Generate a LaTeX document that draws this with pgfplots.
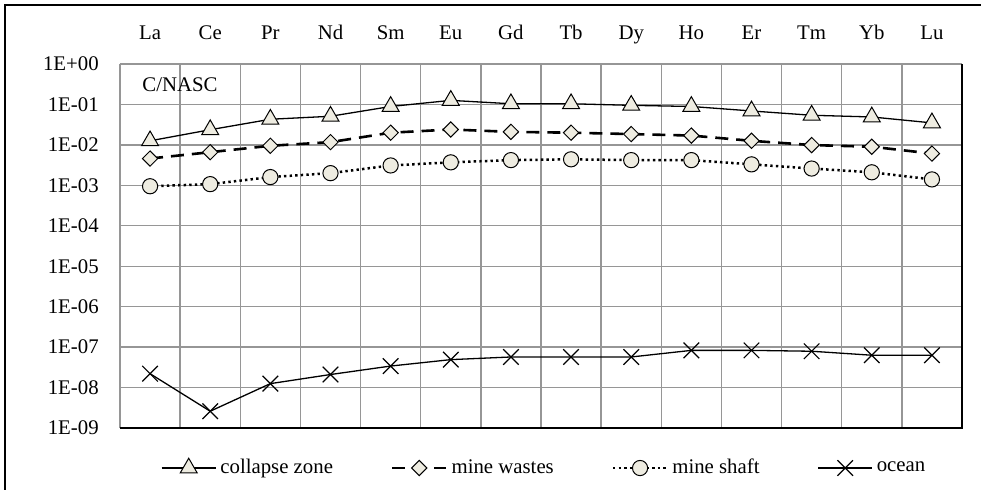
\documentclass[border=0pt]{standalone}
\usepackage{fontspec}
\setmainfont{Liberation Serif}
\usepackage{pgfplots}
\pgfplotsset{compat=1.18}
\definecolor{mfill}{RGB}{238,236,225}
\definecolor{gridg}{RGB}{150,150,150}
\begin{document}
\fontsize{10.4}{12}\selectfont
\begin{tikzpicture}
\useasboundingbox (-60pt,-31pt) rectangle (430.5pt,214pt);
\draw[black, line width=0.8pt] (-57.5pt,-40pt) -- (-57.5pt,211.6pt) -- (440pt,211.6pt);
\begin{axis}[
  at={(0pt,0pt)}, anchor=south west,
  scale only axis, width=421pt, height=182pt,
  ymode=log, ymin=1e-9, ymax=1,
  xmin=0.5, xmax=14.5,
  clip=false,
  axis line style={draw=none},
  xtick={1,...,14},
  xticklabels={La,Ce,Pr,Nd,Sm,Eu,Gd,Tb,Dy,Ho,Er,Tm,Yb,Lu},
  xticklabel pos=upper,
  xticklabel style={anchor=base, yshift=12.1pt, font=\fontsize{10.4}{12}\selectfont},
  minor xtick={1.5,2.5,...,13.5},
  xminorgrids=true,
  ytick={1e-9,1e-8,1e-7,1e-6,1e-5,1e-4,1e-3,1e-2,1e-1,1},
  yticklabels={1E-09,1E-08,1E-07,1E-06,1E-05,1E-04,1E-03,1E-02,1E-01,1E+00},
  yticklabel style={xshift=-7pt, font=\fontsize{10.4}{12}\selectfont},
  yminorticks=false,
  ymajorgrids=true,
  major tick length=0pt, minor tick length=0pt,
  grid style={draw=gridg, line width=0.65pt},
  minor grid style={draw=gridg, line width=0.65pt},
  legend image code/.code={\draw[mark repeat=2,mark phase=2] plot coordinates {(0pt,0pt)(13.5pt,0pt)(27pt,0pt)};},
  legend style={at={(0.505,-0.11)}, anchor=center, draw=none, fill=none,
    legend columns=4, font=\fontsize{10.4}{12}\selectfont,
    /tikz/every even column/.append style={column sep=27pt}},
]
\addplot[black, line width=0.65pt, mark=triangle*, mark size=4.9pt,
  mark options={fill=mfill, draw=black, line width=0.5pt}]
  coordinates {(1,0.0126)(2,0.0237)(3,0.043)(4,0.051)(5,0.089)(6,0.126)(7,0.104)(8,0.104)(9,0.095)(10,0.089)(11,0.069)(12,0.054)(13,0.049)(14,0.035)};
\addlegendentry{collapse zone}
\addplot[black, line width=1.3pt, dash pattern=on 6.5pt off 4pt, mark=square*, mark size=2.7pt,
  mark options={solid, rotate=45, fill=mfill, draw=black, line width=0.5pt}]
  coordinates {(1,0.0046)(2,0.0066)(3,0.0095)(4,0.0117)(5,0.020)(6,0.024)(7,0.021)(8,0.020)(9,0.0185)(10,0.017)(11,0.0126)(12,0.0099)(13,0.0090)(14,0.0061)};
\addlegendentry{mine wastes}
\addplot[black, line width=1.25pt, dash pattern=on 1.2pt off 1.6pt, mark=*, mark size=3.8pt,
  mark options={solid, fill=mfill, draw=black, line width=0.5pt}]
  coordinates {(1,0.00095)(2,0.00107)(3,0.0016)(4,0.0020)(5,0.0031)(6,0.0037)(7,0.0042)(8,0.0044)(9,0.0042)(10,0.0042)(11,0.0033)(12,0.0026)(13,0.0021)(14,0.0014)};
\addlegendentry{mine shaft}
\addplot[black, line width=0.65pt, mark=x, mark size=5.5pt,
  mark options={solid, draw=black, line width=0.6pt}]
  coordinates {(1,2.2e-8)(2,2.6e-9)(3,1.25e-8)(4,2.1e-8)(5,3.4e-8)(6,4.9e-8)(7,5.7e-8)(8,5.7e-8)(9,5.7e-8)(10,8.3e-8)(11,8.3e-8)(12,7.9e-8)(13,6.3e-8)(14,6.3e-8)};
\addlegendentry{ocean}
\draw[gridg, line width=1pt] (rel axis cs:0,0) -- (rel axis cs:0,1);
\draw[black, line width=1.1pt] (rel axis cs:0,0) -- (rel axis cs:1,0) -- (rel axis cs:1,1);
\node[anchor=west, inner sep=0pt, font=\fontsize{10.4}{12}\selectfont] at ([xshift=11pt, yshift=-10.5pt]rel axis cs:0,1) {C/NASC};
\end{axis}
\end{tikzpicture}
\end{document}
